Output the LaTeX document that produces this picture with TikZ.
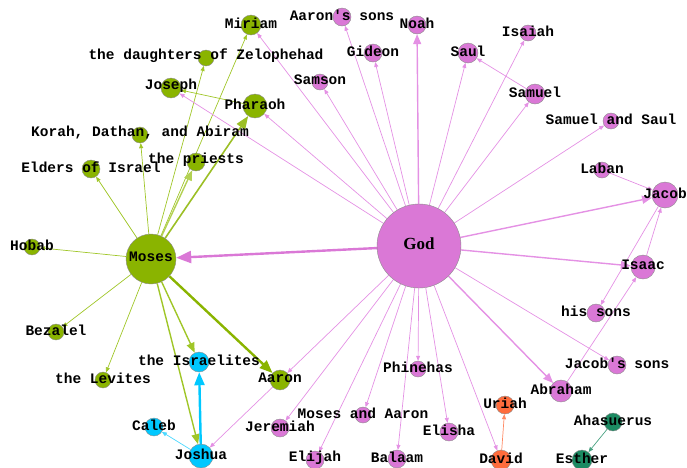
\documentclass[tikz,border=0pt]{standalone}
\usepackage{fontspec}
\setmainfont{Liberation Serif}
\setmonofont{Liberation Mono}
\usepackage{tikz}
\usetikzlibrary{arrows.meta,backgrounds}

\definecolor{gnode}{RGB}{138,180,0}
\definecolor{gedge}{RGB}{160,198,40}
\definecolor{pnode}{RGB}{218,120,214}
\definecolor{pedge}{RGB}{228,145,228}
\definecolor{bnode}{RGB}{0,200,255}
\definecolor{onode}{RGB}{255,108,60}
\definecolor{tnode}{RGB}{28,138,98}

\begin{document}
\begin{tikzpicture}[x=1pt, y=-1pt,
  every node/.style = {shape=circle, draw=black!45, line width=0.4pt, inner sep=0pt},
  every label/.style = {draw=none, shape=rectangle, yshift=2pt,
    font=\ttfamily\bfseries\fontsize{14.5}{15}\selectfont},
  gv/.style = {fill=gnode, minimum size=#1},
  pv/.style = {fill=pnode, minimum size=#1},
  bv/.style = {fill=bnode, minimum size=#1},
  ov/.style = {fill=onode, minimum size=#1},
  tv/.style = {fill=tnode, minimum size=#1},
  lnkA/.style = {line width=0.7pt, -{Triangle[length=5pt,width=4pt]}},
  lnkB/.style = {line width=1.4pt, -{Triangle[length=10pt,width=8pt]}},
  lnkC/.style = {line width=2.4pt, -{Triangle[length=13pt,width=10pt]}}]
  \clip (0,0) rectangle (687,467);

  \node[pv=84, label={[font=\rmfamily\bfseries\fontsize{17}{18}\selectfont]center:God}] (god) at (419,246) {};
  \node[gv=50, label={center:Moses}] (moses) at (151,259) {};
  \node[gv=20, label={center:Miriam}] (miriam) at (251,25) {};
  \node[gv=16, label={center:{the daughters of Zelophehad}}] (zelophehad) at (206,58) {};
  \node[gv=20, label={center:Joseph}] (joseph) at (171,88) {};
  \node[gv=24, label={center:Pharaoh}] (pharaoh) at (255,106) {};
  \node[gv=16, label={center:{Korah, Dathan, and Abiram}}] (korah) at (140,135) {};
  \node[gv=18, label={center:{the priests}}] (priests) at (196,162) {};
  \node[gv=18, label={center:{Elders of Israel}}] (elders) at (91,169) {};
  \node[gv=16, label={center:Hobab}] (hobab) at (32,247) {};
  \node[gv=16, label={center:Bezalel}] (bezalel) at (56,332) {};
  \node[gv=16, label={center:{the Levites}}] (levites) at (103,380) {};
  \node[bv=20, label={center:{the Israelites}}] (israelites) at (199,362) {};
  \node[gv=20, label={center:Aaron}] (aaron) at (280,380) {};
  \node[bv=18, label={center:Caleb}] (caleb) at (154,427) {};
  \node[bv=24, label={center:Joshua}] (joshua) at (201,456) {};
  \node[pv=18, label={center:{Aaron's sons}}] (aaronssons) at (342,17) {};
  \node[pv=16, label={center:Samson}] (samson) at (320,82) {};
  \node[pv=18, label={center:Noah}] (noah) at (417,25) {};
  \node[pv=18, label={center:Gideon}] (gideon) at (373,53) {};
  \node[pv=20, label={center:Saul}] (saul) at (468,53) {};
  \node[pv=16, label={center:Isaiah}] (isaiah) at (528,33) {};
  \node[pv=20, label={center:Samuel}] (samuel) at (535,94) {};
  \node[pv=16, label={center:{Samuel and Saul}}] (samuelsaul) at (611,121) {};
  \node[pv=16, label={center:Laban}] (laban) at (602,170) {};
  \node[pv=26, label={center:Jacob}] (jacob) at (665,195) {};
  \node[pv=24, label={center:Isaac}] (isaac) at (643,267) {};
  \node[pv=18, label={center:{his sons}}] (hissons) at (596,313) {};
  \node[pv=18, label={center:{Jacob's sons}}] (jacobssons) at (617,365) {};
  \node[pv=22, label={center:Abraham}] (abraham) at (561,391) {};
  \node[pv=16, label={center:Phinehas}] (phinehas) at (418,369) {};
  \node[pv=16, label={center:{Moses and Aaron}}] (mosesaaron) at (363,415) {};
  \node[pv=18, label={center:Elisha}] (elisha) at (449,432) {};
  \node[pv=18, label={center:Balaam}] (balaam) at (397,459) {};
  \node[ov=20, label={center:David}] (david) at (501,460) {};
  \node[ov=18, label={center:Uriah}] (uriah) at (505,405) {};
  \node[tv=18, label={center:Ahasuerus}] (ahasuerus) at (613,422) {};
  \node[tv=20, label={center:Esther}] (esther) at (582,460) {};
  \node[pv=18, label={center:Jeremiah}] (jeremiah) at (280,428) {};
  \node[pv=18, label={center:Elijah}] (elijah) at (315,460) {};

  \begin{scope}[on background layer]
    \foreach \a/\b in {moses/miriam, moses/zelophehad, moses/korah, moses/elders,
        moses/hobab, moses/bezalel, moses/levites, pharaoh/joseph}
      \draw[lnkA, gedge] (\a) -- (\b);
    \draw[lnkB, gedge!80] (moses) -- (priests);
    \draw[lnkB, gedge] (moses) -- (israelites);
    \draw[lnkB, gedge] (moses) -- (joshua);
    \draw[lnkC, gnode!85, line width=1.6pt] (moses) -- (pharaoh);
    \draw[lnkC, gnode] (moses) -- (aaron);
    \draw[lnkC, bnode] (joshua) -- (israelites);
    \draw[lnkA, bnode!70] (joshua) -- (caleb);
    \foreach \b in {miriam, joseph, pharaoh, aaronssons, samson, gideon, saul, isaiah,
        samuel, samuelsaul, jacobssons, david, elisha, balaam, phinehas,
        mosesaaron, elijah, jeremiah, aaron}
      \draw[lnkA, pedge] (god) -- (\b);
    \foreach \b in {noah, jacob, isaac, abraham}
      \draw[lnkB, pedge] (god) -- (\b);
    \draw[lnkC, pnode, -{Triangle[length=15pt,width=12pt]}] (god) -- (moses);
    \foreach \a/\b in {samuel/saul, laban/jacob, abraham/isaac, isaac/jacob,
        jacob/hissons, aaron/joshua}
      \draw[lnkA, pedge] (\a) -- (\b);
    \draw[lnkA, onode!80] (david) -- (uriah);
    \draw[lnkA, tnode!80] (ahasuerus) -- (esther);
  \end{scope}
\end{tikzpicture}
\end{document}
